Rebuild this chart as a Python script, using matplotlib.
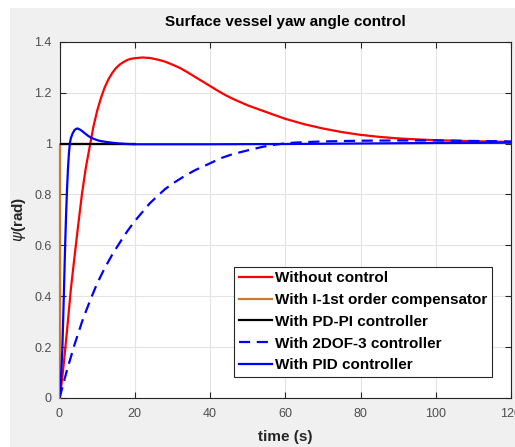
import matplotlib
matplotlib.use("Agg")
import matplotlib.pyplot as plt
from matplotlib.patches import Rectangle

# ---- data ----
t_red = [0, 0.5, 1, 1.5, 2, 3, 4, 5, 6, 7, 8, 9, 10, 11, 12, 13, 14, 15, 16, 17, 18, 19, 20,
         22, 24, 26, 28, 30, 32, 34, 36, 38, 40, 42, 44, 46, 48, 50, 53, 56, 60, 65, 70,
         75, 80, 85, 90, 95, 100, 110, 120]
y_red = [0, 0.05, 0.115, 0.19, 0.265, 0.425, 0.556, 0.683, 0.805, 0.905, 0.985, 1.065,
         1.128, 1.178, 1.22, 1.252, 1.277, 1.296, 1.31, 1.32, 1.328, 1.333, 1.335,
         1.338, 1.336, 1.33, 1.322, 1.31, 1.297, 1.28, 1.262, 1.244, 1.226, 1.208, 1.191,
         1.176, 1.163, 1.15, 1.134, 1.118, 1.097, 1.076, 1.059, 1.045, 1.034, 1.026, 1.02,
         1.016, 1.013, 1.009, 1.006]

t_orange = [0, 0, 20]
y_orange = [0, 1, 1]

t_black = [0, 20]
y_black = [1, 1]

t_2dof = [0, 1, 2, 3, 4, 5, 6, 7, 8.6, 10, 12, 14, 16, 18, 20, 22, 24, 26, 28, 30, 33, 36,
          40, 43, 46, 50, 54, 58, 62, 66, 70, 80, 90, 100, 110, 120]
y_2dof = [0, 0.055, 0.11, 0.16, 0.21, 0.255, 0.30, 0.34, 0.40, 0.45, 0.51, 0.563, 0.61,
          0.655, 0.695, 0.73, 0.765, 0.793, 0.82, 0.842, 0.87, 0.895, 0.922, 0.943, 0.958,
          0.973, 0.987, 0.997, 1.003, 1.006, 1.008, 1.011, 1.012, 1.012, 1.010, 1.008]

t_pid = [0, 0.25, 0.5, 0.75, 1.0, 1.25, 1.5, 1.75, 2.0, 2.25, 2.5, 2.75, 3.0, 3.5, 4.0,
         4.6, 5.0, 5.5, 6, 6.5, 7, 7.7, 8.5, 9.5, 10.5, 12, 14, 16, 18, 20, 30, 40, 60, 80,
         100, 120]
y_pid = [0, 0.04, 0.11, 0.19, 0.32, 0.46, 0.60, 0.72, 0.82, 0.90, 0.96, 1.0, 1.02, 1.04,
         1.053, 1.059, 1.058, 1.054, 1.049, 1.043, 1.037, 1.029, 1.022, 1.016, 1.011,
         1.007, 1.003, 1.0, 0.998, 0.997, 0.997, 0.997, 0.998, 1.0, 1.002, 1.003]

labels = ["Without control", "With I-1st order compensator", "With PD-PI controller",
          "With 2DOF-3 controller", "With PID controller"]
xticks = [0, 20, 40, 60, 80, 100, 120]
yticks = [0, 0.2, 0.4, 0.6, 0.8, 1.0, 1.2, 1.4]
ytick_labels = ['0', '0.2', '0.4', '0.6', '0.8', '1', '1.2', '1.4']

plt.rcParams['font.family'] = ['Liberation Sans', 'DejaVu Sans']

fig = plt.figure(figsize=(5.15, 4.47), dpi=100, facecolor='white')
fig.patches.append(Rectangle((10 / 515, 0), 1, (447 - 8) / 447, transform=fig.transFigure,
                             facecolor='#f0f0f0', edgecolor='none', zorder=-10))
ax = fig.add_axes([59.5 / 515, 49 / 447, 451.5 / 515, 356.3 / 447])
ax.set_facecolor('white')

lw = 1.6
ax.plot(t_red, y_red, color='#ff0000', lw=lw, label=labels[0], zorder=3)
ax.plot(t_orange, y_orange, color='#cc7a33', lw=lw, label=labels[1], zorder=3.1, clip_on=False)
ax.plot(t_black, y_black, color='black', lw=lw, label=labels[2], zorder=3.2)
ax.plot(t_2dof, y_2dof, color='#0000ff', lw=lw, ls=(0, (5, 3)), label=labels[3], zorder=3.3)
ax.plot(t_pid, y_pid, color='#0000ff', lw=lw, label=labels[4], zorder=3.4)

ax.set_xlim(0, 120)
ax.set_ylim(0, 1.4)
ax.set_xticks(xticks)
ax.set_yticks(yticks)
ax.set_yticklabels(ytick_labels)
ax.grid(True, color='#e3e3e3', lw=0.8)
ax.set_axisbelow(True)
ax.tick_params(direction='in', top=True, right=True, length=4, width=0.8,
               labelsize=9, labelcolor='#4d4d4d', color='#262626')
ax.tick_params(axis='x', pad=7.5)
ax.tick_params(axis='y', pad=5.5)
for s in ax.spines.values():
    s.set_color('#262626')
    s.set_linewidth(0.8)

ax.set_title('Surface vessel yaw angle control', fontsize=11, fontweight='bold', pad=11)
ax.set_xlabel('time (s)', fontsize=11, fontweight='bold', color='#262626', labelpad=7)
ax.set_ylabel(r'$\psi$(rad)', fontsize=11, fontweight='bold', color='#262626', labelpad=4.5)

leg = ax.legend(loc='lower right', bbox_to_anchor=(0.958, 0.059), borderaxespad=0,
                fancybox=False, framealpha=1, edgecolor='#262626',
                prop={'weight': 'bold', 'size': 11}, handlelength=2.2, handletextpad=0.2,
                labelspacing=0.51, borderpad=0.3)
leg.get_frame().set_linewidth(0.8)

fig.savefig('out.png', dpi=100, facecolor=fig.get_facecolor())
